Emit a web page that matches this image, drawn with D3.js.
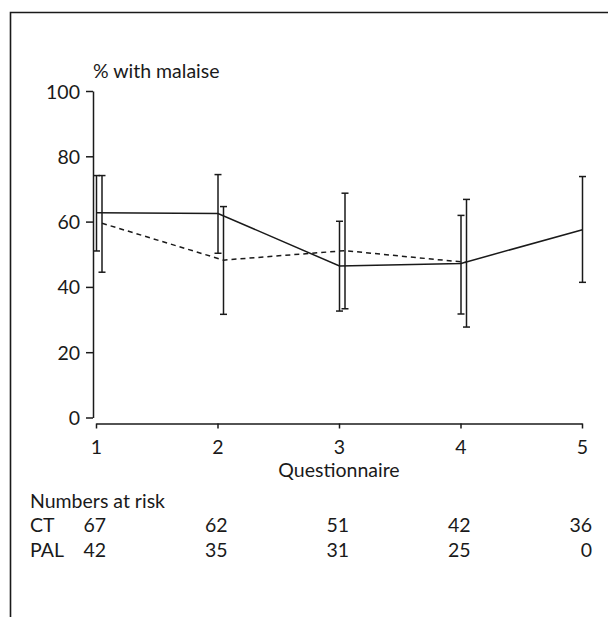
<!DOCTYPE html>
<html>
<head>
<meta charset="utf-8">
<script src="https://cdn.jsdelivr.net/npm/d3@7"></script>
<style>
  html, body { margin: 0; padding: 0; background: #fff; }
  svg { display: block; }
  text { font-family: Lato, "Open Sans", sans-serif; fill: #1a1a1a; }
</style>
</head>
<body>
<svg id="chart" width="608" height="617"></svg>
<script>
// ---- data ----
const questionnaires = [1, 2, 3, 4, 5];
const ctMean = [62.7, 62.5, 46.4, 47.2, 57.5];
const ctLow  = [51.0, 50.3, 32.6, 31.7, 41.4];
const ctHigh = [74.1, 74.4, 60.1, 61.9, 73.8];
const palMean = [59.5, 48.2, 51.1, 47.5];
const palLow  = [44.5, 31.6, 33.3, 27.7];
const palHigh = [74.1, 64.6, 68.7, 66.8];
const yTicks = [0, 20, 40, 60, 80, 100];
const riskGroups = ["CT", "PAL"];
const riskCT  = [67, 62, 51, 42, 36];
const riskPAL = [42, 35, 31, 25, 0];

// ---- layout ----
const svg = d3.select("#chart");
const ink = "#1a1a1a";
const fontSize = 19.5;
const x = d3.scaleLinear().domain([1, 5]).range([96, 582]);
const y = d3.scaleLinear().domain([0, 100]).range([417.5, 91]);
const palOffset = 6;
const capHalf = 3.5;

// frame (left and top edges visible)
svg.append("path")
  .attr("d", "M10.5,617 L10.5,12.5 L608,12.5")
  .attr("fill", "none").attr("stroke", ink).attr("stroke-width", 1.6);

// y axis
const yAxis = d3.axisLeft(y).tickValues(yTicks).tickSize(7).tickPadding(6).tickSizeOuter(0);
const gy = svg.append("g").attr("transform", "translate(93,0)").call(yAxis);
gy.select(".domain").attr("stroke", ink).attr("stroke-width", 1.5);
gy.selectAll(".tick line").attr("stroke", ink).attr("stroke-width", 1.5);
gy.selectAll(".tick text").attr("font-size", fontSize).attr("font-family", "Lato, sans-serif")
  .attr("fill", ink).attr("dy", "0.36em");

// x axis
const xAxis = d3.axisBottom(x).tickValues(questionnaires).tickFormat(d3.format("d")).tickSize(5).tickSizeOuter(0);
const gx = svg.append("g").attr("transform", "translate(0,423.5)").call(xAxis);
gx.select(".domain").attr("stroke", ink).attr("stroke-width", 1.5);
gx.selectAll(".tick line").attr("stroke", ink).attr("stroke-width", 1.5);
gx.selectAll(".tick text").attr("font-size", fontSize).attr("font-family", "Lato, sans-serif")
  .attr("fill", ink).attr("y", 30).attr("dy", "0");

// axis titles
svg.append("text").attr("x", 93).attr("y", 77.5).attr("font-size", fontSize).text("% with malaise");
svg.append("text").attr("x", x(3)).attr("y", 476.5).attr("text-anchor", "middle").attr("font-size", fontSize).text("Questionnaire");

// series
const ctData = questionnaires.map((q, i) => ({ q, m: ctMean[i], lo: ctLow[i], hi: ctHigh[i], dx: 0.5 }));
const palData = palMean.map((m, i) => ({ q: questionnaires[i], m, lo: palLow[i], hi: palHigh[i], dx: palOffset }));

function drawSeries(data, dash) {
  const line = d3.line().x(d => x(d.q) + d.dx).y(d => y(d.m));
  svg.append("path").datum(data)
    .attr("d", line).attr("fill", "none").attr("stroke", ink)
    .attr("stroke-width", 1.5).attr("stroke-dasharray", dash);
  const g = svg.append("g").attr("stroke", ink).attr("stroke-width", 1.5);
  data.forEach(d => {
    const cx = x(d.q) + d.dx;
    g.append("line").attr("x1", cx).attr("x2", cx).attr("y1", y(d.lo)).attr("y2", y(d.hi));
    g.append("line").attr("x1", cx - capHalf).attr("x2", cx + capHalf).attr("y1", y(d.lo)).attr("y2", y(d.lo));
    g.append("line").attr("x1", cx - capHalf).attr("x2", cx + capHalf).attr("y1", y(d.hi)).attr("y2", y(d.hi));
  });
}
drawSeries(palData, "5,4");
drawSeries(ctData, null);

// numbers at risk
svg.append("text").attr("x", 30).attr("y", 507.5).attr("font-size", fontSize).text("Numbers at risk");
const riskRows = [riskCT, riskPAL];
const rowY = [531.5, 556.5];
riskGroups.forEach((g, r) => {
  svg.append("text").attr("x", 30).attr("y", rowY[r]).attr("font-size", fontSize).text(g);
  svg.append("g").selectAll("text").data(riskRows[r]).join("text")
    .attr("x", (d, i) => x(questionnaires[i]) + 10)
    .attr("y", rowY[r])
    .attr("text-anchor", "end")
    .attr("font-size", fontSize)
    .text(d => d);
});
</script>
</body>
</html>
